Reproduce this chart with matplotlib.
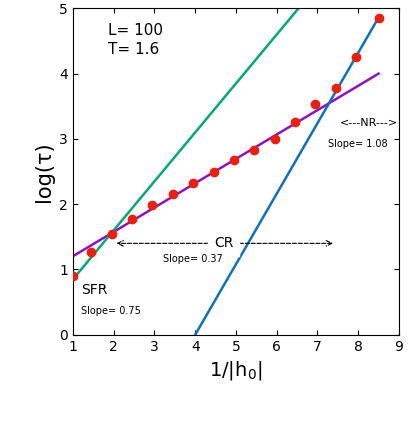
import matplotlib
matplotlib.use("Agg")
import matplotlib.pyplot as plt
import numpy as np

x = [1.0, 1.45, 1.95, 2.45, 2.95, 3.45, 3.95, 4.45, 4.95, 5.45, 5.95, 6.45, 6.95, 7.45, 7.95, 8.5]
y = [0.9, 1.27, 1.55, 1.78, 1.98, 2.16, 2.33, 2.5, 2.67, 2.83, 3.0, 3.26, 3.53, 3.78, 4.25, 4.85]
fits = {"#9010c0": (0.373, 0.83), "#00a878": (0.75, 0.1), "#1070b8": (1.08, -4.32)}

fig = plt.figure(figsize=(4.10, 4.21), dpi=100)
ax = fig.add_axes([0.178, 0.205, 0.795, 0.775])
xx = np.linspace(1, 8.5, 200)
for c, (m, b) in fits.items():
    ax.plot(xx, m * xx + b, color=c, lw=1.8, zorder=2)
ax.plot(x, y, 'o', color='#e82010', ms=6, zorder=3)
ax.set_xlim(1, 9); ax.set_ylim(0, 5)
ax.set_xticks(range(1, 10)); ax.set_yticks(range(0, 6))
ax.tick_params(direction='in', top=True, right=True, labelsize=10)
ax.set_xlabel("1/|h$_0$|", fontsize=14)
ax.set_ylabel("log(τ)", fontsize=15)
ax.text(1.85, 4.6, "L= 100", fontsize=11)
ax.text(1.85, 4.3, "T= 1.6", fontsize=11)
ax.text(1.2, 0.62, "SFR", fontsize=10)
ax.text(1.2, 0.32, "Slope= 0.75", fontsize=7)
ax.text(7.55, 3.2, "<---NR--->", fontsize=8)
ax.text(7.25, 2.88, "Slope= 1.08", fontsize=7)
ax.annotate("", xy=(2.0, 1.4), xytext=(7.45, 1.4),
            arrowprops=dict(arrowstyle="<->", ls='--', lw=0.8, color='k'))
ax.text(4.7, 1.4, "CR", fontsize=10, ha='center', va='center', backgroundcolor='white')
ax.text(3.2, 1.12, "Slope= 0.37", fontsize=7)
fig.savefig("out.png", dpi=100)
